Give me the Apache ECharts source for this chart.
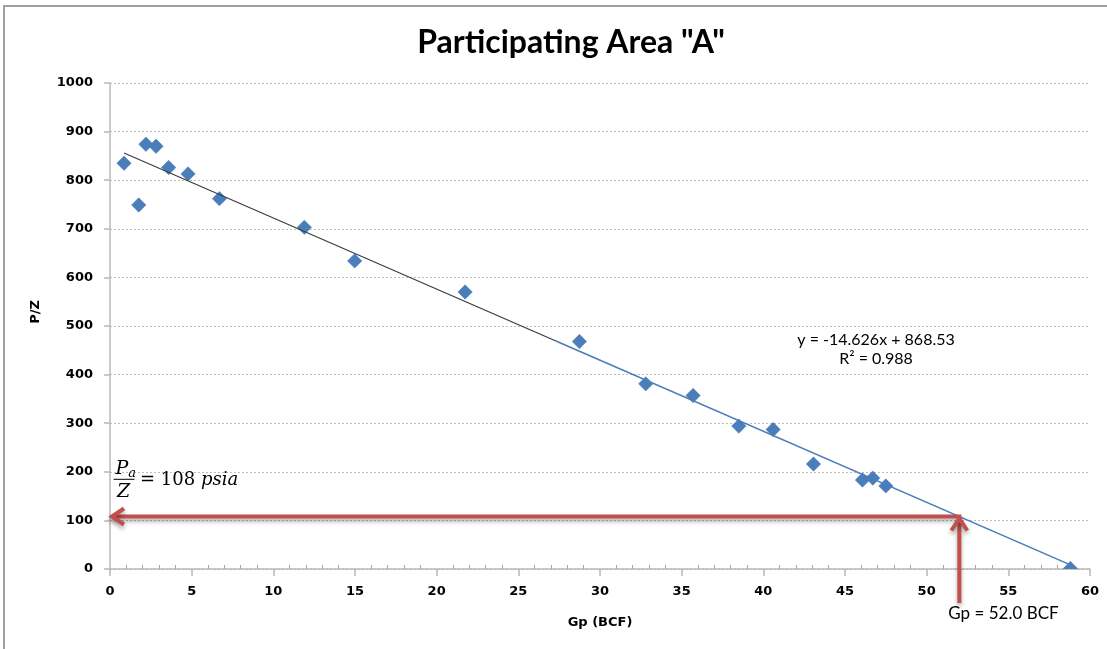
<!DOCTYPE html>
<html>
<head>
<meta charset="utf-8">
<title>Participating Area "A" – P/Z vs Gp</title>
<script src="https://cdn.jsdelivr.net/npm/echarts@6/dist/echarts.min.js"></script>
<style>
  html, body { margin: 0; padding: 0; background: #ffffff; }
  #chart { width: 1107px; height: 649px; }
</style>
</head>
<body>
<div id="chart"></div>
<script>
// Cumulative gas production (BCF) and measured P/Z for each survey
const gp = [0.86, 1.76, 2.2, 2.82, 3.59, 4.78, 6.7, 11.9, 14.98, 21.74,
            28.74, 32.8, 35.7, 38.5, 40.6, 43.07, 46.07, 46.7, 47.5, 58.8];
const pz = [835, 749, 874, 870, 826, 813, 762, 703, 634, 570,
            468, 381, 357, 294, 287, 216, 183, 187, 171, 1];

// Axis tick labels
const xTicks = [0, 5, 10, 15, 20, 25, 30, 35, 40, 45, 50, 55, 60];
const yTicks = [0, 100, 200, 300, 400, 500, 600, 700, 800, 900, 1000];

// Linear fit of P/Z against Gp
const slope = -14.626;
const intercept = 868.53;
const rSquared = 0.988;
const fitStart = 0.86;   // first survey
const fitSplit = 27.3;   // early-data segment ends here
const fitEnd = 58.8;     // last survey

// Abandonment condition
const abandonPZ = 108;
const abandonGp = 52.0;

const fit = x => slope * x + intercept;

const points = gp.map((g, i) => [g, pz[i]]);
const fitEarly = [[fitStart, fit(fitStart)], [fitSplit, fit(fitSplit)]];
const fitLate = [[fitSplit, fit(fitSplit)], [fitEnd, fit(fitEnd)]];

const labelFont = 'DejaVu Sans';
const textFont = 'Lato';
const mathFont = 'DejaVu Serif';
const blue = '#4a7ebb';
const red = '#c0504d';

const chart = echarts.init(document.getElementById('chart'), null, { renderer: 'canvas' });

chart.setOption({
  animation: false,
  backgroundColor: '#ffffff',
  title: {
    text: 'Participating Area "A"',
    left: 566,
    top: 22,
    textAlign: 'center',
    textStyle: { fontFamily: textFont, fontWeight: 'bold', fontSize: 32, color: '#000' }
  },
  grid: { left: 110, right: 17, top: 83, bottom: 80, containLabel: false },
  xAxis: {
    type: 'value',
    min: xTicks[0],
    max: xTicks[xTicks.length - 1],
    interval: xTicks[1] - xTicks[0],
    name: 'Gp (BCF)',
    nameLocation: 'middle',
    nameGap: 54,
    nameTextStyle: { fontFamily: labelFont, fontWeight: 'bold', fontSize: 13, color: '#000', verticalAlign: 'middle' },
    axisLine: { show: true, onZero: false, lineStyle: { color: '#b8b8b8', width: 1.5 } },
    axisTick: { show: true, length: 7, lineStyle: { color: '#b8b8b8', width: 1.5 } },
    minorTick: { show: true, splitNumber: 5, length: -4, lineStyle: { color: '#a8a8a8', width: 1 } },
    axisLabel: {
      margin: 16,
      fontFamily: labelFont, fontWeight: 'bold', fontSize: 13, color: '#000',
      formatter: v => xTicks.includes(v) ? String(v) : ''
    },
    splitLine: { show: false }
  },
  yAxis: {
    type: 'value',
    min: yTicks[0],
    max: yTicks[yTicks.length - 1],
    interval: yTicks[1] - yTicks[0],
    name: 'P/Z',
    nameLocation: 'middle',
    nameGap: 68,
    nameRotate: 90,
    nameTextStyle: { fontFamily: labelFont, fontWeight: 'bold', fontSize: 13, color: '#000', padding: [0, 0, 0, 28] },
    axisLine: { show: true, onZero: false, lineStyle: { color: '#b8b8b8', width: 1.5 } },
    axisTick: { show: true, length: 6, lineStyle: { color: '#b8b8b8', width: 1.5 } },
    axisLabel: {
      margin: 17,
      fontFamily: labelFont, fontWeight: 'bold', fontSize: 13, color: '#000',
      formatter: v => yTicks.includes(v) ? String(v) : ''
    },
    splitLine: { show: true, lineStyle: { color: '#bdbdbd', width: 1, type: [2, 2] } }
  },
  series: [
    {
      name: 'P/Z',
      type: 'custom',
      clip: true,
      z: 3,
      data: points,
      encode: { x: 0, y: 1 },
      renderItem: (params, api) => {
        const c = api.coord([api.value(0), api.value(1)]);
        const r = 7.2;
        return {
          type: 'polygon',
          shape: { points: [[c[0], c[1] - r], [c[0] + r, c[1]], [c[0], c[1] + r], [c[0] - r, c[1]]] },
          style: { fill: blue, stroke: '#4577b5', lineWidth: 0.5 }
        };
      }
    },
    {
      name: 'Fit (early)',
      type: 'line',
      z: 4,
      data: fitEarly,
      symbol: 'none',
      lineStyle: { color: '#3c3c3c', width: 1.2 }
    },
    {
      name: 'Fit',
      type: 'line',
      z: 4,
      data: fitLate,
      symbol: 'none',
      lineStyle: { color: blue, width: 1.6 }
    }
  ]
});

// Annotations placed through the chart's own coordinate conversion
function drawAnnotations() {
  const toPx = v => chart.convertToPixel({ gridIndex: 0 }, v);
  const [xA, yA] = toPx([abandonGp, abandonPZ]);
  const [x0] = toPx([0, abandonPZ]);
  const [, yBase] = toPx([0, 0]);
  const [xEq, yEq] = toPx([46.9, 452]);
  const [xP, yP] = toPx([0.4, 200]);

  const shadow = { shadowColor: 'rgba(0,0,0,0.35)', shadowBlur: 4, shadowOffsetY: 3 };

  chart.setOption({
    graphic: [
      {
        id: 'frame', type: 'rect', silent: true, z: 0,
        shape: { x: 4, y: 6, width: 1200, height: 800 },
        style: { fill: null, stroke: '#a0a0a0', lineWidth: 2 }
      },
      {
        id: 'hLine', type: 'polyline', z: 10,
        shape: { points: [[xA + 2, yA], [x0 + 2, yA]] },
        style: Object.assign({ stroke: red, lineWidth: 4, fill: null }, shadow)
      },
      {
        id: 'hHead', type: 'polyline', z: 10,
        shape: { points: [[x0 + 14, yA - 8], [x0 + 2, yA], [x0 + 14, yA + 8]] },
        style: Object.assign({ stroke: red, lineWidth: 4, fill: null, lineJoin: 'miter' }, shadow)
      },
      {
        id: 'vLine', type: 'polyline', z: 10,
        shape: { points: [[xA, yBase + 34], [xA, yA + 2]] },
        style: Object.assign({ stroke: red, lineWidth: 4, fill: null }, shadow)
      },
      {
        id: 'vHead', type: 'polyline', z: 10,
        shape: { points: [[xA - 8, yA + 14], [xA, yA + 2], [xA + 8, yA + 14]] },
        style: Object.assign({ stroke: red, lineWidth: 4, fill: null, lineJoin: 'miter' }, shadow)
      },
      {
        id: 'gpLabel', type: 'text', z: 11,
        x: xA - 11, y: yBase + 45,
        style: {
          text: 'Gp = ' + abandonGp.toFixed(1) + ' BCF',
          fontFamily: textFont, fontSize: 17, fill: '#000',
          align: 'left', verticalAlign: 'middle'
        }
      },
      {
        id: 'equation', type: 'text', z: 11,
        x: xEq, y: yEq,
        style: {
          text: 'y = ' + slope.toFixed(3) + 'x + ' + intercept.toFixed(2) + '\nR² = ' + rSquared.toFixed(3),
          fontFamily: textFont, fontSize: 16, lineHeight: 19, fill: '#000',
          align: 'center', verticalAlign: 'middle'
        }
      },
      {
        id: 'pa', type: 'text', z: 11,
        x: xP - 1, y: yP - 3,
        style: {
          text: '{P|P}{a|a}',
          align: 'left', verticalAlign: 'middle',
          rich: {
            P: { fontFamily: mathFont, fontStyle: 'italic', fontSize: 19, fill: '#000' },
            a: { fontFamily: mathFont, fontStyle: 'italic', fontSize: 13, fill: '#000', padding: [10, 0, 0, 0] }
          }
        }
      },
      {
        id: 'frac', type: 'line', z: 11,
        shape: { x1: xP - 3, y1: yP + 7.5, x2: xP + 18, y2: yP + 7.5 },
        style: { stroke: '#000', lineWidth: 1 }
      },
      {
        id: 'z', type: 'text', z: 11,
        x: xP + 7, y: yP + 20,
        style: {
          text: 'Z', fontFamily: mathFont, fontStyle: 'italic', fontSize: 19, fill: '#000',
          align: 'center', verticalAlign: 'middle'
        }
      },
      {
        id: 'eq108', type: 'text', z: 11,
        x: xP + 23.5, y: yP + 9,
        style: {
          text: '{n|= ' + abandonPZ + ' }{i|psia}',
          align: 'left', verticalAlign: 'middle',
          rich: {
            n: { fontFamily: mathFont, fontSize: 18, fill: '#000' },
            i: { fontFamily: mathFont, fontStyle: 'italic', fontSize: 18, fill: '#000' }
          }
        }
      }
    ]
  });
}

drawAnnotations();
</script>
</body>
</html>
